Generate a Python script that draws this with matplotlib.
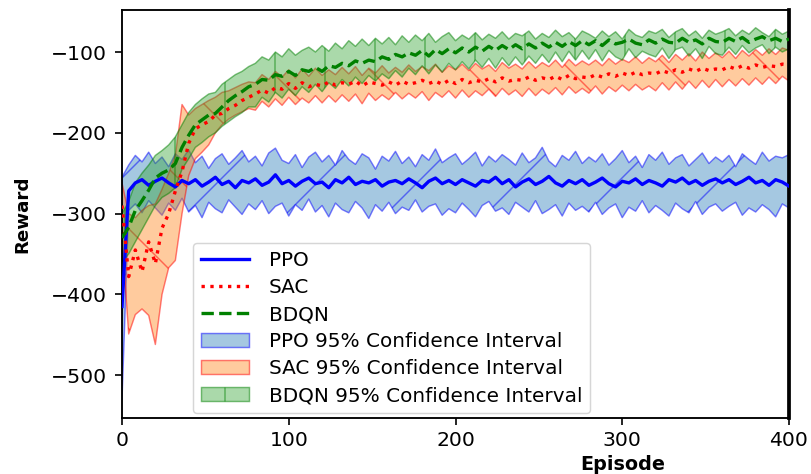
import numpy as np
import matplotlib
matplotlib.use('Agg')
import matplotlib.pyplot as plt
from matplotlib.colors import to_rgba

# reward curves, one value every 4 episodes (0..400)
episodes = np.arange(0, 401, 4)

ppo_mean = [
    -415, -272, -262, -258, -265, -260, -256, -262, -267, -259,
    -263, -258, -266, -261, -255, -264, -260, -268, -259, -262,
    -257, -265, -261, -252, -263, -259, -266, -260, -256, -263,
    -261, -268, -258, -262, -255, -264, -260, -262, -258, -266,
    -261, -259, -263, -257, -262, -268, -260, -256, -263, -259,
    -264, -258, -262, -266, -259, -261, -255, -263, -258, -267,
    -261, -257, -264, -260, -254, -262, -266, -259, -263, -258,
    -265, -261, -256, -263, -267, -260, -262, -257, -264, -259,
    -262, -266, -258, -261, -256, -263, -259, -265, -260, -257,
    -262, -258, -264, -260, -255, -262, -259, -265, -258, -261,
    -266]
ppo_upper = [
    -255, -240, -228, -236, -224, -238, -230, -242, -226, -233,
    -221, -237, -229, -244, -232, -226, -239, -231, -222, -236,
    -229, -241, -225, -219, -234, -238, -227, -243, -230, -224,
    -236, -228, -240, -222, -233, -239, -226, -231, -245, -229,
    -235, -223, -238, -230, -242, -227, -234, -220, -237, -231,
    -226, -239, -232, -224, -241, -229, -236, -227, -233, -240,
    -225, -237, -231, -218, -235, -242, -228, -234, -223, -238,
    -230, -236, -226, -240, -232, -222, -237, -229, -243, -227,
    -234, -224, -239, -231, -227, -241, -233, -225, -238, -230,
    -236, -228, -242, -226, -233, -239, -224, -235, -229, -231,
    -227]
ppo_lower = [
    -530, -296, -288, -299, -284, -293, -302, -287, -296, -281,
    -298, -290, -305, -286, -294, -299, -283, -292, -301, -288,
    -295, -284, -300, -291, -287, -303, -289, -296, -282, -298,
    -290, -304, -287, -295, -299, -285, -293, -306, -289, -297,
    -286, -300, -292, -296, -283, -298, -291, -288, -302, -294,
    -299, -287, -295, -304, -290, -285, -297, -293, -301, -286,
    -292, -298, -284, -300, -295, -289, -303, -287, -296, -291,
    -298, -286, -301, -293, -288, -305, -292, -297, -284, -299,
    -290, -296, -303, -287, -294, -299, -285, -301, -292, -288,
    -297, -291, -286, -302, -293, -298, -289, -295, -304, -288,
    -293]

sac_mean = [
    -290, -378, -345, -372, -335, -362, -318, -300, -272, -248,
    -213, -195, -190, -186, -178, -176, -170, -166, -160, -156,
    -152, -147, -151, -144, -146, -139, -145, -138, -143, -140,
    -142, -137, -141, -138, -140, -136, -142, -137, -139, -141,
    -137, -141, -136, -140, -138, -135, -139, -136, -140, -135,
    -139, -134, -138, -135, -137, -133, -137, -132, -136, -134,
    -135, -131, -135, -132, -134, -130, -134, -129, -133, -131,
    -132, -128, -131, -127, -130, -126, -129, -125, -128, -126,
    -127, -123, -126, -122, -125, -121, -124, -120, -123, -121,
    -122, -118, -121, -117, -120, -116, -119, -117, -118, -115,
    -116]
sac_upper = [
    -262, -300, -305, -296, -290, -288, -270, -250, -228, -165,
    -178, -170, -165, -160, -156, -150, -148, -144, -140, -137,
    -138, -128, -134, -124, -131, -122, -132, -121, -130, -120,
    -129, -122, -128, -119, -127, -118, -129, -120, -126, -117,
    -126, -119, -125, -116, -124, -118, -123, -115, -125, -117,
    -122, -115, -123, -114, -121, -116, -124, -113, -120, -115,
    -121, -112, -120, -113, -118, -110, -119, -109, -117, -111,
    -116, -110, -117, -108, -115, -109, -113, -106, -114, -107,
    -112, -104, -113, -103, -110, -102, -111, -100, -108, -101,
    -107, -99, -108, -98, -105, -97, -104, -96, -103, -95,
    -98]
sac_lower = [
    -330, -449, -425, -418, -426, -462, -400, -367, -358, -300,
    -253, -232, -224, -215, -200, -190, -183, -178, -174, -170,
    -172, -161, -168, -158, -166, -156, -165, -157, -163, -154,
    -163, -154, -162, -153, -161, -152, -164, -151, -160, -153,
    -159, -150, -158, -151, -157, -149, -160, -150, -156, -148,
    -157, -147, -156, -148, -154, -146, -155, -145, -153, -147,
    -155, -145, -154, -146, -152, -144, -153, -143, -151, -145,
    -151, -142, -152, -143, -149, -141, -148, -140, -147, -142,
    -148, -138, -147, -137, -146, -136, -145, -135, -144, -134,
    -143, -134, -142, -133, -141, -132, -140, -131, -139, -130,
    -136]

bdqn_mean = [
    -330, -317, -296, -284, -271, -256, -250, -246, -238, -218,
    -203, -190, -184, -178, -176, -168, -160, -154, -149, -143,
    -140, -134, -135, -128, -130, -124, -129, -122, -124, -119,
    -124, -117, -119, -114, -117, -111, -114, -110, -112, -106,
    -109, -103, -106, -101, -104, -98, -105, -97, -102, -96,
    -101, -95, -100, -94, -99, -93, -98, -92, -97, -91,
    -96, -90, -95, -89, -94, -88, -93, -87, -92, -86,
    -91, -86, -92, -85, -90, -88, -84, -89, -91, -85,
    -89, -84, -88, -89, -83, -88, -85, -90, -83, -87,
    -88, -83, -87, -82, -88, -84, -81, -86, -83, -87,
    -84]
bdqn_upper = [
    -300, -285, -262, -250, -240, -228, -222, -215, -205, -190,
    -175, -165, -158, -152, -150, -140, -134, -128, -124, -118,
    -114, -106, -110, -100, -106, -96, -104, -98, -94, -100,
    -92, -99, -89, -96, -86, -93, -84, -92, -83, -90,
    -82, -91, -80, -88, -79, -86, -77, -88, -81, -76,
    -86, -79, -84, -76, -85, -78, -83, -75, -84, -77,
    -80, -74, -84, -77, -82, -73, -81, -76, -84, -74,
    -78, -83, -74, -81, -75, -84, -72, -79, -82, -74,
    -77, -72, -82, -75, -71, -80, -74, -83, -73, -78,
    -75, -71, -80, -73, -78, -70, -76, -81, -72, -78,
    -74]
bdqn_lower = [
    -360, -350, -335, -320, -305, -290, -280, -275, -268, -245,
    -232, -218, -212, -205, -200, -192, -186, -180, -175, -168,
    -168, -156, -162, -150, -157, -146, -154, -143, -150, -140,
    -149, -138, -145, -134, -142, -131, -139, -129, -136, -127,
    -133, -123, -131, -120, -128, -117, -127, -116, -125, -114,
    -122, -112, -121, -110, -119, -108, -120, -107, -117, -106,
    -116, -105, -114, -103, -113, -100, -112, -99, -110, -98,
    -109, -97, -111, -98, -106, -110, -96, -107, -99, -103,
    -106, -95, -108, -97, -94, -105, -96, -108, -93, -102,
    -104, -94, -103, -92, -101, -95, -91, -102, -94, -100,
    -96]

# high dpi so the hatch lines come out sparse; sizes below are in points
DPI = 300
plt.rcParams['hatch.linewidth'] = 0.35
plt.rcParams['font.family'] = 'DejaVu Sans'

fig = plt.figure(figsize=(811 / DPI, 474 / DPI), dpi=DPI)
ax = fig.add_axes([122 / 811, 1 - 418 / 474, 667 / 811, 408 / 474])

lw = 0.8
ax.plot(episodes, ppo_mean, color='blue', lw=lw, label='PPO', zorder=3)
ax.plot(episodes, sac_mean, color='red', lw=lw, ls=':', label='SAC', zorder=3)
ax.plot(episodes, bdqn_mean, color='green', lw=lw, ls='--', label='BDQN', zorder=3)

ax.fill_between(episodes, ppo_lower, ppo_upper, facecolor=to_rgba('tab:blue', 0.4),
                edgecolor=to_rgba('blue', 0.5), lw=0.35, hatch='/',
                label='PPO 95% Confidence Interval', zorder=1)
ax.fill_between(episodes, sac_lower, sac_upper, facecolor=to_rgba('tab:orange', 0.4),
                edgecolor=to_rgba('red', 0.5), lw=0.35, hatch='\\',
                label='SAC 95% Confidence Interval', zorder=1)
ax.fill_between(episodes, bdqn_lower, bdqn_upper, facecolor=to_rgba('tab:green', 0.4),
                edgecolor=to_rgba('green', 0.5), lw=0.35, hatch='|',
                label='BDQN 95% Confidence Interval', zorder=1)

ax.set_xlim(0, 400)
ax.set_ylim(-553, -48)
ax.set_xticks([0, 100, 200, 300, 400])
ax.set_yticks([-500, -400, -300, -200, -100])
ax.tick_params(axis='both', labelsize=4.9, length=1.6, width=0.4)
ax.tick_params(axis='y', pad=2.1)
ax.tick_params(axis='x', pad=1.4)

for side in ['left', 'bottom', 'top']:
    ax.spines[side].set_linewidth(0.45)
ax.spines['right'].set_linewidth(0.9)

ax.set_ylabel('Reward', fontsize=4.4, fontweight='bold')
ax.yaxis.set_label_coords(-0.136, 0.5)
ax.set_xlabel('Episode', fontsize=4.6, fontweight='bold')
ax.xaxis.set_label_coords(0.75, -0.09)

leg = ax.legend(loc='lower left', bbox_to_anchor=(0.106, 0.012), fontsize=4.8,
                labelspacing=0.4, handlelength=2.4, handletextpad=1.0,
                borderpad=0.4, borderaxespad=0)
leg.get_frame().set_linewidth(0.35)

fig.savefig('out.png', dpi=DPI)
